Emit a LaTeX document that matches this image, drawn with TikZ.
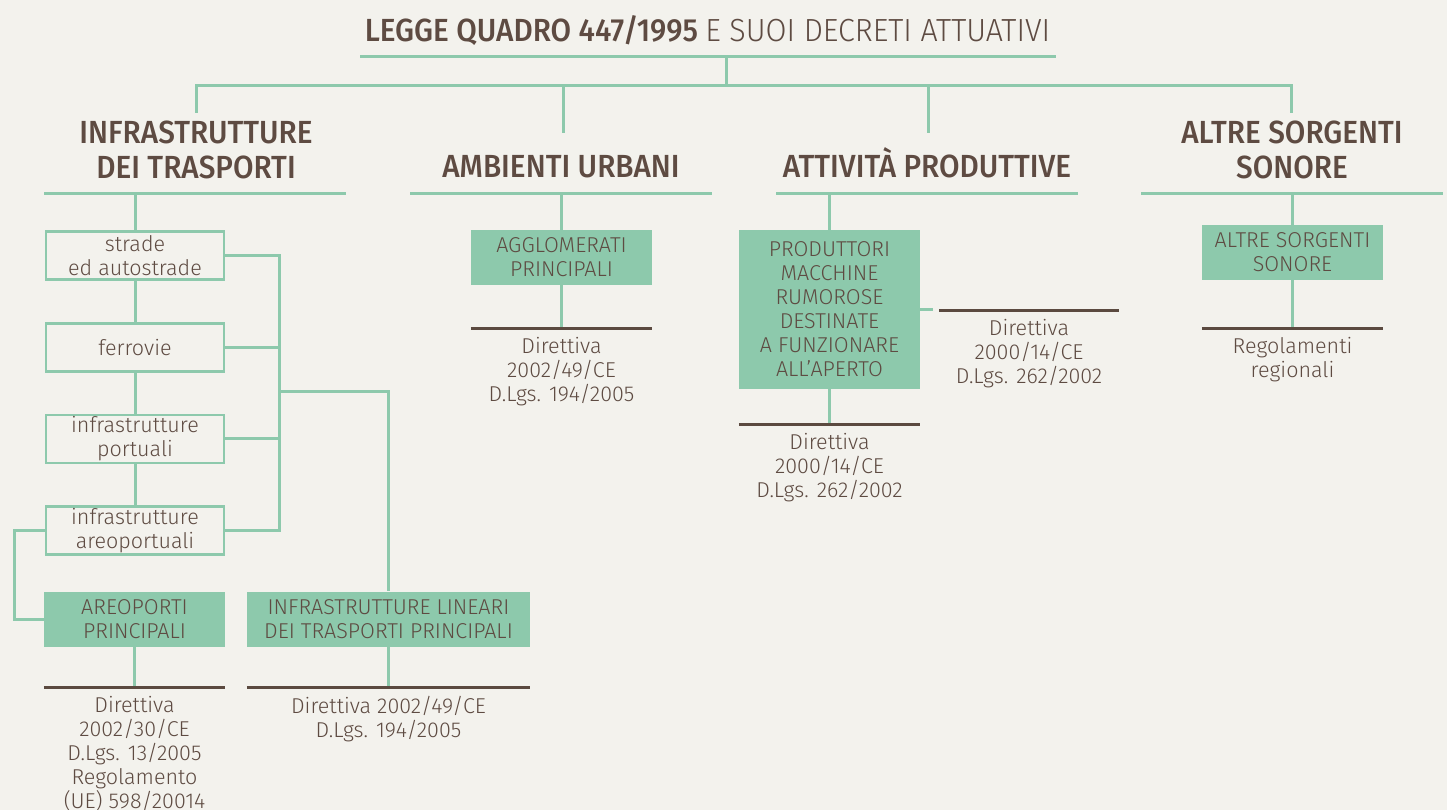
\documentclass[tikz,border=0pt]{standalone}
\usepackage{fontspec}
\IfFontExistsTF{Fira Sans Light}{%
  \setmainfont{Fira Sans Light}
  \newfontfamily\headlight{Fira Sans Light}[FakeStretch=0.95]}{%
  \setmainfont{Fira Sans}
  \newfontfamily\headlight{Fira Sans}[FakeStretch=0.95]}
\IfFontExistsTF{Fira Sans Medium}{%
  \newfontfamily\headfont{Fira Sans Medium}[FakeStretch=0.93]}{%
  \newfontfamily\headfont{Fira Sans}[FakeStretch=0.95]}
\usetikzlibrary{calc,positioning}
\definecolor{bgcol}{HTML}{F3F2ED}
\definecolor{lgreen}{HTML}{8DC9AC}
\definecolor{txtbrown}{HTML}{5E4B42}
\definecolor{rulebrown}{HTML}{5B4A40}

\begin{document}
\begin{tikzpicture}[x=1pt,y=-1pt,
    link/.style={draw=lgreen,line width=3pt},
    rulebar/.style={draw=rulebrown,line width=3pt},
    headtxt/.style={text=txtbrown,font=\fontsize{32}{35}\selectfont\headfont,align=center,inner sep=0pt},
    lowtxt/.style={text=txtbrown,font=\fontsize{21.5}{24}\selectfont,align=center,inner sep=0pt},
    openbox/.style={lowtxt,draw=lgreen,line width=2.7pt,minimum width=178pt,minimum height=48pt},
    fullbox/.style={lowtxt,fill=lgreen,minimum width=181pt,minimum height=55pt}]
  \useasboundingbox (0,0) rectangle (1447,810);
  \fill[bgcol] (0,0) rectangle (1447,810);

  % title and main bus
  \node[headtxt,anchor=base] (title) at (707.5,42) {LEGGE QUADRO 447/1995 {\headlight E SUOI DECRETI ATTUATIVI}};
  \coordinate (titleW) at (360,57);
  \coordinate (titleE) at (1056,57);
  \coordinate (titleJ) at (726,57);
  \coordinate (busJ) at (726,86);
  \draw[link] (titleW) -- (titleE);
  \draw[link] (titleJ) -- (busJ);
  \coordinate (busA) at (196,86);
  \coordinate (busB) at (563,86);
  \coordinate (busC) at (928,86);
  \coordinate (busD) at (1291,86);
  \coordinate (stubA) at (196,113);
  \coordinate (stubB) at (563,133);
  \coordinate (stubC) at (928,133);
  \coordinate (stubD) at (1291,113);
  \draw[link] (stubA) -- (busA) -- (busD) -- (stubD);
  \draw[link] (busB) -- (stubB);
  \draw[link] (busC) -- (stubC);

  % headings
  \node[headtxt] (infra) at (196,150) {INFRASTRUTTURE\\DEI TRASPORTI};
  \node[headtxt,anchor=base] (urban) at (561,178) {AMBIENTI URBANI};
  \node[headtxt,anchor=base] (attiv) at (927,178) {ATTIVITÀ PRODUTTIVE};
  \node[headtxt] (altre) at (1292,150) {ALTRE SORGENTI\\SONORE};
  \foreach \n/\cx in {infra/195,urban/561,attiv/927,altre/1292}{
    \coordinate (\n W) at (\cx-151,194);
    \coordinate (\n E) at (\cx+151,194);
    \draw[link] (\n W) -- (\n E);
  }

  % transport infrastructures
  \node[openbox] (strade) at (135,255.5) {strade\\ed autostrade};
  \node[openbox,below=41pt of strade] (ferro) {ferrovie};
  \node[openbox,below=41pt of ferro] (porto) {infrastrutture\\portuali};
  \node[openbox,below=41pt of porto] (aereo) {infrastrutture\\areoportuali};
  \draw[link] (strade.north |- infraW) -- (strade.north);
  \draw[link] (strade) -- (ferro);
  \draw[link] (ferro) -- (porto);
  \draw[link] (porto) -- (aereo);
  \coordinate (colR) at (279,391);
  \draw[link] (strade.east) -- (strade.east -| colR) -- (aereo.east -| colR) -- (aereo.east);
  \draw[link] (ferro.east) -- (ferro.east -| colR);
  \draw[link] (porto.east) -- (porto.east -| colR);

  \node[fullbox] (aeroporti) at (134.5,619) {AREOPORTI\\PRINCIPALI};
  \node[fullbox,minimum width=283pt] (linear) at (388.5,619) {INFRASTRUTTURE LINEARI\\DEI TRASPORTI PRINCIPALI};
  \draw[link] (aereo.west) -- ++(-30,0) |- (aeroporti.west);
  \draw[link] (colR) -| (linear.north);

  \coordinate (aeroR) at (134.5,687);
  \coordinate (linearR) at (388.5,687);
  \draw[link] (aeroporti) -- (aeroR);
  \draw[link] (linear) -- (linearR);
  \draw[rulebar] (aeroR -| aeroporti.west) -- (aeroR -| aeroporti.east);
  \draw[rulebar] (linearR -| linear.west) -- (linearR -| linear.east);
  \node[lowtxt,below=9pt of aeroR] (aeroNorm) {Direttiva\\2002/30/CE\\D.Lgs. 13/2005\\Regolamento\\(UE) 598/20014};
  \node[lowtxt,below=9pt of linearR] (linearNorm) {Direttiva 2002/49/CE\\D.Lgs. 194/2005};

  % urban areas
  \node[fullbox] (agglo) at (561.5,257.5) {AGGLOMERATI\\PRINCIPALI};
  \draw[link] (agglo.north |- urbanW) -- (agglo.north);
  \coordinate (aggloR) at (561.5,328);
  \draw[link] (agglo) -- (aggloR);
  \draw[rulebar] (aggloR -| agglo.west) -- (aggloR -| agglo.east);
  \node[lowtxt,below=9pt of aggloR] (aggloNorm) {Direttiva\\2002/49/CE\\D.Lgs. 194/2005};

  % productive activities
  \node[fullbox,minimum height=159pt] (prod) at (829.5,309.5) {PRODUTTORI\\MACCHINE\\RUMOROSE\\DESTINATE\\A FUNZIONARE\\ALL’APERTO};
  \draw[link] (prod.north |- attivW) -- (prod.north);
  \coordinate (prodSide) at (933,309.5);
  \draw[link] (prod.east) -- (prodSide);
  \coordinate (sideW) at (939,310);
  \coordinate (sideE) at (1119,310);
  \coordinate (sideC) at (1029,310);
  \draw[rulebar] (sideW) -- (sideE);
  \node[lowtxt,below=9pt of sideC] (sideNorm) {Direttiva\\2000/14/CE\\D.Lgs. 262/2002};
  \coordinate (prodR) at (829.5,424);
  \draw[link] (prod) -- (prodR);
  \draw[rulebar] (prodR -| prod.west) -- (prodR -| prod.east);
  \node[lowtxt,below=9pt of prodR] (prodNorm) {Direttiva\\2000/14/CE\\D.Lgs. 262/2002};

  % other sources
  \node[fullbox] (sorg) at (1292.5,252.5) {ALTRE SORGENTI\\SONORE};
  \draw[link] (sorg.north |- altreW) -- (sorg.north);
  \coordinate (sorgR) at (1292.5,328);
  \draw[link] (sorg) -- (sorgR);
  \draw[rulebar] (sorgR -| sorg.west) -- (sorgR -| sorg.east);
  \node[lowtxt,below=9pt of sorgR] (sorgNorm) {Regolamenti\\regionali};
\end{tikzpicture}
\end{document}
